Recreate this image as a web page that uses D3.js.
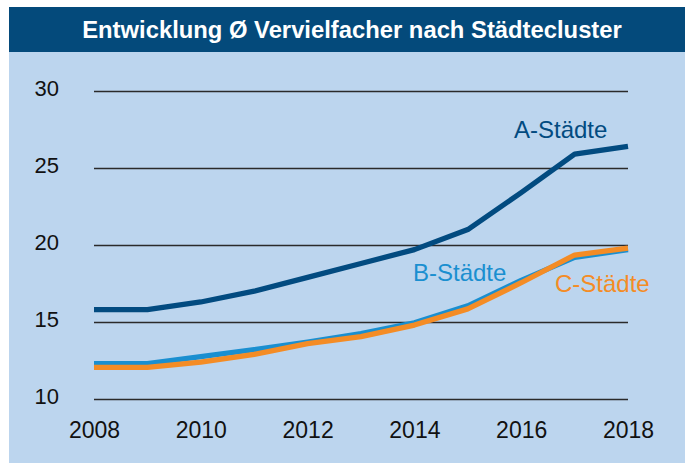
<!DOCTYPE html>
<html>
<head>
<meta charset="utf-8">
<script src="https://cdn.jsdelivr.net/npm/d3@7"></script>
<style>
  body { margin: 0; background: #fff; }
  text { font-family: "Liberation Sans", Arial, Helvetica, sans-serif; }
</style>
</head>
<body>
<div class="chart"></div>
<script>
// Entwicklung Ø Vervielfacher nach Städtecluster
var svgWidth = 685;
var svgHeight = 463;

// data
var years = [2008, 2009, 2010, 2011, 2012, 2013, 2014, 2015, 2016, 2017, 2018];
var aStaedte = [15.8, 15.8, 16.3, 17.0, 17.9, 18.8, 19.7, 21.0, 23.4, 25.9, 26.4];
var bStaedte = [12.3, 12.3, 12.75, 13.2, 13.7, 14.25, 14.95, 16.05, 17.7, 19.2, 19.7];
var cStaedte = [12.05, 12.05, 12.4, 12.9, 13.6, 14.05, 14.8, 15.85, 17.55, 19.35, 19.8];
var yTicks = [10, 15, 20, 25, 30];
var xTicks = [2008, 2010, 2012, 2014, 2016, 2018];
var seriesNames = ["A-Städte", "B-Städte", "C-Städte"];

var svg = d3.select(".chart")
  .append("svg")
  .attr("width", svgWidth)
  .attr("height", svgHeight);

// panel + title bar
svg.append("rect")
  .attr("x", 9).attr("y", 52)
  .attr("width", svgWidth - 9).attr("height", svgHeight - 52)
  .attr("fill", "#bcd5ee");
svg.append("rect")
  .attr("x", 9).attr("y", 7)
  .attr("width", svgWidth - 9).attr("height", 45)
  .attr("fill", "#044a7b");
svg.append("text")
  .attr("x", 352).attr("y", 38)
  .attr("text-anchor", "middle")
  .attr("font-size", "23.8px")
  .attr("font-weight", "bold")
  .attr("fill", "white")
  .text("Entwicklung Ø Vervielfacher nach Städtecluster");

// scales
var x = d3.scaleLinear().domain([2008, 2018]).range([94, 628]);
var y = d3.scaleLinear().domain([10, 30]).range([399, 91]);

// grid lines with labels
var leftAxis = d3.axisLeft(y)
  .tickValues(yTicks)
  .tickSize(-(628 - 94))
  .tickPadding(35)
  .tickFormat(d3.format("d"));
var gy = svg.append("g")
  .attr("transform", "translate(94,0)")
  .call(leftAxis);
gy.select(".domain").remove();
gy.selectAll(".tick line").attr("stroke", "#2a2a2a").attr("stroke-width", 1.3);
gy.selectAll(".tick text")
  .attr("font-size", "22px")
  .attr("fill", "#111")
  .attr("dy", "0.22em")
  .attr("font-family", "Liberation Sans, Arial, sans-serif");

var bottomAxis = d3.axisBottom(x)
  .tickValues(xTicks)
  .tickSize(0)
  .tickPadding(0)
  .tickFormat(d3.format("d"));
var gx = svg.append("g")
  .attr("transform", "translate(0,438)")
  .call(bottomAxis);
gx.select(".domain").remove();
gx.selectAll(".tick text")
  .attr("font-size", "23px")
  .attr("fill", "#111")
  .attr("dy", "0")
  .attr("font-family", "Liberation Sans, Arial, sans-serif");

// lines
var line = d3.line()
  .x(function(d, i) { return x(years[i]); })
  .y(function(d) { return y(d); });

var series = [
  { name: seriesNames[0], values: aStaedte, color: "#024b80", lx: 514, ly: 138 },
  { name: seriesNames[1], values: bStaedte, color: "#1a8fd0", lx: 413, ly: 281 },
  { name: seriesNames[2], values: cStaedte, color: "#f48c25", lx: 555, ly: 292 }
];

series.forEach(function(s) {
  svg.append("path")
    .datum(s.values)
    .attr("d", line)
    .attr("fill", "none")
    .attr("stroke", s.color)
    .attr("stroke-width", 5.3)
    .attr("stroke-linejoin", "round");
  svg.append("text")
    .attr("x", s.lx).attr("y", s.ly)
    .attr("font-size", "24px")
    .attr("fill", s.color)
    .text(s.name);
});
</script>
</body>
</html>
